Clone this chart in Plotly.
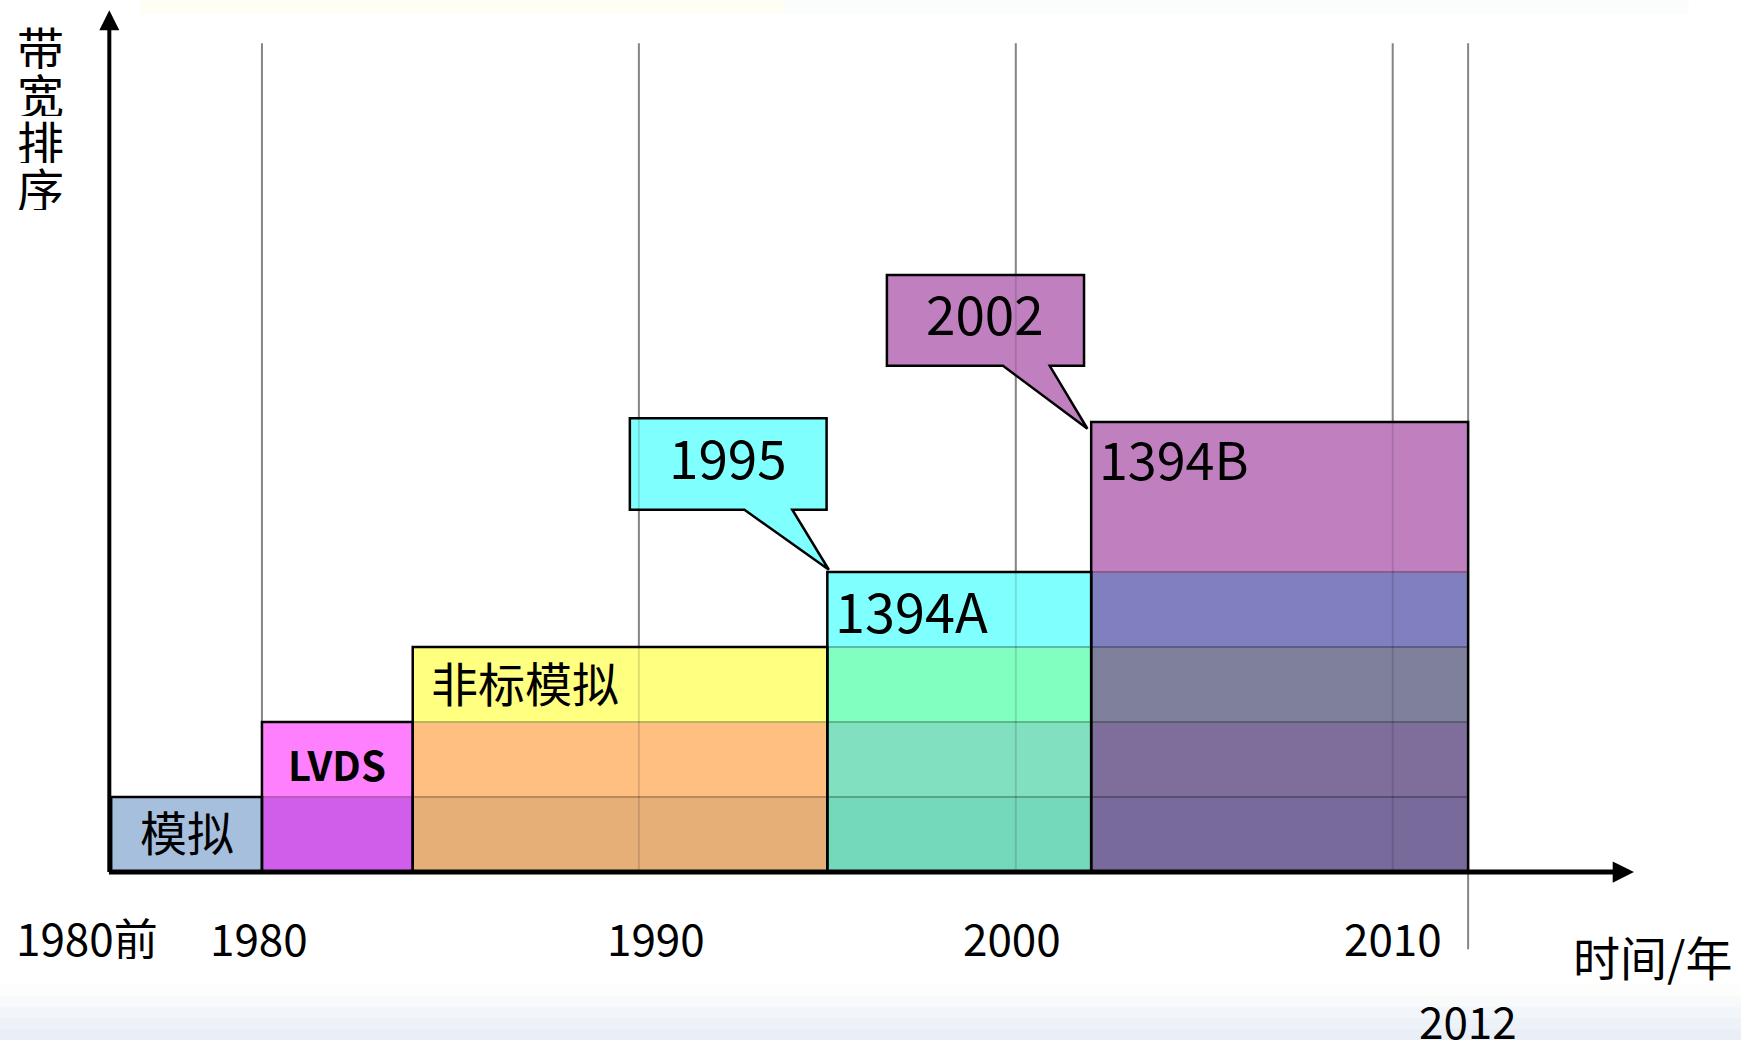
import plotly.graph_objects as go

# ---------------- data ----------------
standards = ["模拟", "LVDS", "非标模拟", "1394A", "1394B"]
start_year = [1976, 1980, 1984, 1995, 2002]   # 1976 stands for "1980前"
end_year = [1980, 1984, 1995, 2002, 2012]
rank_top = [1, 2, 3, 4, 6]                    # bandwidth rank (top of each block)

callout_text = ["1995", "2002"]
callout_for = [3, 4]                          # index into standards

tick_years = [1976, 1980, 1990, 2000, 2010, 2012]
tick_text = ["1980前", "1980", "1990", "2000", "2010", "2012"]
grid_years = [1980, 1990, 2000, 2010, 2012]

y_title = "带宽排序"
x_title = "时间/年"

# ---------------- styles ----------------
FONT = "Noto Sans CJK SC"
cell_colors = [
    ["#a6bfdd"],
    ["#d15eea", "#ff80ff"],
    ["#e6af78", "#ffbf80", "#ffff80"],
    ["#74d8ba", "#80e0c0", "#80ffc0", "#80ffff"],
    ["#786a9a", "#7f6e9c", "#7f809b", "#8080c0", "#c080c0"],
]
label_align = ["center", "center", "left", "left", "left"]
label_bold = [False, True, False, False, False]
label_size = [47, 40, 47, 54, 52]
label_xshift = [0, 0, 16, 6, 6]
label_yshift = [4, -4, 3, 0, 2]
callout_fill = ["#80ffff", "#c080c0"]
callout_geom = [
    dict(l=-5.24, r=-0.02, b=0.83, t=2.05, t1=-2.2, t2=-0.93, tx=0.04, ty=0.03),
    dict(l=-5.42, r=-0.19, b=0.75, t=1.96, t1=-2.34, t2=-1.1, tx=-0.1, ty=-0.09),
]
tick_xshift = [-24, -3, 17, -4, 0, 0]
tick_y = [-0.87, -0.87, -0.87, -0.87, -0.87, -1.97]

W, H = 1741, 1040
X_RANGE = [1973.05, 2019.24]
Y_RANGE = [-2.24, 11.627]


def darken(hexc, f=0.72):
    h = hexc.lstrip("#")
    r, g, b = (int(h[i:i + 2], 16) for i in (0, 2, 4))
    return "rgb(%d,%d,%d)" % (r * f, g * f, b * f)


fig = go.Figure()

# background decorations (paper)
grad = ["#fdfdfb", "#f8f9fb", "#f2f5fa", "#edf1f8", "#e9eef7"]
for k, c in enumerate(grad):
    y1 = 1 - (985 + k * 11) / H
    fig.add_shape(type="rect", xref="paper", yref="paper", x0=0, x1=1,
                  y0=0, y1=y1, fillcolor=c, line=dict(width=0), layer="below")
fig.add_shape(type="rect", xref="paper", yref="paper", x0=0.08, x1=0.45,
              y0=1 - 14 / H, y1=1, fillcolor="#fffef4", line=dict(width=0), layer="below")
fig.add_shape(type="rect", xref="paper", yref="paper", x0=0.45, x1=0.97,
              y0=1 - 14 / H, y1=1, fillcolor="#fbfdfd", line=dict(width=0), layer="below")

# gridlines under the blocks
for yr in grid_years:
    y0 = -1.03 if yr == 2012 else 0
    fig.add_shape(type="line", xref="x", yref="y", x0=yr, x1=yr, y0=y0, y1=11.05,
                  line=dict(color="#9a9a9a", width=2), layer="below")

# blocks, one cell per bandwidth level
for i, name in enumerate(standards):
    levels = [0] + rank_top[:i + 1]
    bases = levels[:-1]
    heights = [levels[k + 1] - levels[k] for k in range(len(bases))]
    n = len(bases)
    cx = (start_year[i] + end_year[i]) / 2
    w = end_year[i] - start_year[i]
    fig.add_trace(go.Bar(
        x=[cx] * n, y=heights, base=bases, width=[w] * n,
        marker=dict(color=cell_colors[i],
                    line=dict(color=[darken(c) for c in cell_colors[i]], width=2)),
        hoverinfo="skip", showlegend=False, name=name))

# outer black frames
for i in range(len(standards)):
    fig.add_shape(type="rect", xref="x", yref="y", x0=start_year[i], x1=end_year[i],
                  y0=0, y1=rank_top[i], line=dict(color="black", width=2.5),
                  fillcolor="rgba(0,0,0,0)", layer="above")

# callouts
for j, txt in enumerate(callout_text):
    s = callout_for[j]
    ax_, ay_ = start_year[s], rank_top[s]
    g = callout_geom[j]
    L, R, B, T = ax_ + g["l"], ax_ + g["r"], ay_ + g["b"], ay_ + g["t"]
    path = (f"M {L},{B} L {L},{T} L {R},{T} L {R},{B} L {ax_ + g['t2']},{B} "
            f"L {ax_ + g['tx']},{ay_ + g['ty']} L {ax_ + g['t1']},{B} Z")
    fig.add_shape(type="path", xref="x", yref="y", path=path,
                  fillcolor=callout_fill[j], line=dict(color="black", width=2.5),
                  layer="above")
    fig.add_annotation(x=(L + R) / 2, y=(B + T) / 2, xref="x", yref="y", text=txt,
                       showarrow=False, yshift=8,
                       font=dict(family=FONT, size=53, color="black"))

# faint gridlines visible over the blocks
for yr in grid_years:
    y0 = -1.03 if yr == 2012 else 0
    fig.add_shape(type="line", xref="x", yref="y", x0=yr, x1=yr, y0=y0, y1=11.05,
                  line=dict(color="rgba(0,0,0,0.13)", width=2), layer="above")

# block labels
for i, name in enumerate(standards):
    yc = rank_top[i] - 0.5
    if label_align[i] == "center":
        x, xa = (start_year[i] + end_year[i]) / 2, "center"
    else:
        x, xa = start_year[i], "left"
    txt = f"<b>{name}</b>" if label_bold[i] else name
    fig.add_annotation(x=x, y=yc, xref="x", yref="y", text=txt, showarrow=False,
                       xanchor=xa, xshift=label_xshift[i], yshift=label_yshift[i],
                       font=dict(family=FONT, size=label_size[i], color="black"))

# axes with arrows
axis_x = start_year[0] - 0.05
fig.add_annotation(x=axis_x, y=11.49, ax=axis_x, ay=-0.02, xref="x", yref="y",
                   axref="x", ayref="y", text="", showarrow=True, arrowhead=2,
                   arrowsize=1, arrowwidth=4, arrowcolor="black", standoff=0)
fig.add_annotation(x=2016.4, y=0, ax=axis_x - 0.05, ay=0, xref="x", yref="y",
                   axref="x", ayref="y", text="", showarrow=True, arrowhead=2,
                   arrowsize=0.85, arrowwidth=5, arrowcolor="black", standoff=0)

# tick labels
for k, t in enumerate(tick_text):
    fig.add_annotation(x=tick_years[k], y=tick_y[k], xref="x", yref="y", text=t,
                       showarrow=False, xshift=tick_xshift[k], height=44,
                       valign="middle",
                       font=dict(family=FONT, size=44, color="black"))

# axis titles
fig.add_annotation(x=2016.9, y=-1.107, xref="x", yref="y", text=x_title, showarrow=False,
                   font=dict(family=FONT, size=47, color="black"))
for k, ch in enumerate(y_title):
    fig.add_annotation(x=40 / W, y=1 - (46 + 47 * k) / H, xref="paper", yref="paper",
                       xanchor="center", yanchor="middle", height=46, valign="middle",
                       text=ch, showarrow=False,
                       font=dict(family=FONT, size=47, color="black"))

fig.update_layout(
    width=W, height=H, margin=dict(l=0, r=0, t=0, b=0),
    paper_bgcolor="white", plot_bgcolor="rgba(0,0,0,0)",
    barmode="overlay", bargap=0,
    xaxis=dict(range=X_RANGE, visible=False, fixedrange=True),
    yaxis=dict(range=Y_RANGE, visible=False, fixedrange=True),
    showlegend=False,
)

fig.write_html("out.html", config={"displayModeBar": False},
               post_script="document.body.style.margin='0';")
